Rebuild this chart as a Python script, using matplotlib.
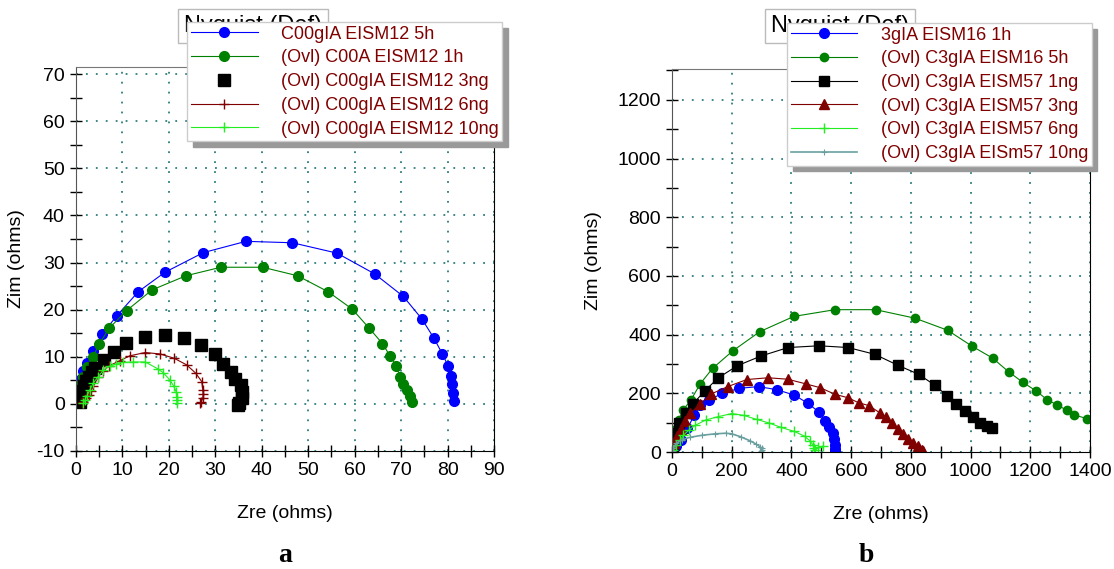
import matplotlib
matplotlib.use('Agg')
import matplotlib.pyplot as plt
from matplotlib.ticker import MultipleLocator

plt.rcParams['font.family'] = ['Liberation Sans', 'DejaVu Sans']
plt.rcParams['axes.unicode_minus'] = False

# ---- panel a (Zre, Zim in ohms) ----
a_5h_x = [0.3, 0.6, 1.0, 1.6, 2.3, 3.7, 5.7, 8.8, 13.4, 19.1, 27.4, 36.6, 46.6, 56.2, 64.3, 70.5,
          74.5, 77.1, 78.9, 80.1, 80.7, 81.0, 81.2, 81.5]
a_5h_y = [0.5, 3.0, 5.3, 7.0, 8.6, 11.3, 14.9, 18.7, 23.8, 27.9, 32.1, 34.5, 34.2, 32.0, 27.6, 22.8,
          18.0, 13.9, 10.6, 8.1, 5.9, 4.2, 2.3, 0.7]
a_1h_x = [0.2, 0.5, 1.0, 1.6, 2.3, 3.6, 5.0, 7.2, 10.9, 16.4, 23.7, 31.2, 40.2, 47.7, 54.3, 59.5,
          63.1, 66.0, 67.6, 69.0, 69.8, 70.5, 71.2, 71.9, 72.4]
a_1h_y = [0.3, 2.3, 4.3, 5.8, 7.8, 9.9, 12.7, 16.1, 19.8, 24.2, 27.2, 29.0, 29.0, 27.2, 23.8, 20.1,
          16.1, 12.8, 10.2, 8.1, 5.8, 4.2, 3.0, 1.6, 0.5]
a_3ng_x = [0.8, 1.0, 1.3, 1.7, 2.2, 2.7, 3.4, 4.1, 6.0, 8.1, 10.8, 14.9, 19.2, 23.3, 27.0, 29.9,
           31.7, 33.3, 34.3, 35.5, 35.8, 35.8, 35.2, 34.9]
a_3ng_y = [0.3, 1.6, 2.8, 3.9, 4.9, 5.8, 6.7, 7.6, 9.3, 11.1, 13.0, 14.3, 14.6, 13.9, 12.5, 10.6,
           8.5, 6.8, 5.2, 4.0, 2.5, 1.2, 0.2, -0.3]
a_6ng_x = [1.2, 1.6, 2.1, 2.7, 3.2, 3.7, 4.8, 5.9, 7.2, 9.5, 11.6, 14.9, 18.1, 21.1, 23.8, 25.8,
           27.1, 27.3, 27.4, 27.3, 27.0, 26.7]
a_6ng_y = [0.1, 0.5, 1.2, 1.9, 2.8, 3.7, 5.8, 7.0, 8.1, 9.2, 10.2, 10.9, 10.6, 9.7, 8.3, 6.5,
           4.7, 3.0, 2.0, 1.2, 0.5, 0.1]
a_10ng_x = [1.6, 1.9, 2.3, 3.0, 3.7, 4.8, 5.9, 7.3, 8.7, 10.2, 12.3, 14.9, 17.7, 18.8, 20.2, 21.1,
            21.6, 21.7, 21.7, 21.8]
a_10ng_y = [0.1, 0.8, 1.6, 3.0, 4.4, 5.8, 7.2, 8.0, 8.5, 8.8, 8.9, 8.9, 7.4, 6.6, 5.1, 3.7,
            2.5, 1.5, 0.8, 0.1]
a_labels = ['C00gIA EISM12 5h', '(Ovl) C00A EISM12 1h', '(Ovl) C00gIA EISM12 3ng',
            '(Ovl) C00gIA EISM12 6ng', '(Ovl) C00gIA EISM12 10ng']

# ---- panel b ----
b_1h_x = [3, 13, 30, 52, 75, 95, 123, 169, 225, 291, 352, 410, 455, 494, 512, 527, 538, 544, 546, 546, 545]
b_1h_y = [2, 19, 42, 81, 126, 160, 177, 200, 217, 223, 212, 194, 166, 135, 107, 86, 64, 44, 24, 10, 1]
b_5h_x = [3, 8, 15, 22, 38, 64, 95, 136, 203, 294, 408, 546, 682, 814, 923, 1006, 1074, 1128, 1176,
          1220, 1257, 1289, 1323, 1348, 1390]
b_5h_y = [12, 45, 80, 108, 144, 178, 233, 285, 344, 410, 462, 485, 485, 456, 415, 360, 320, 273, 237,
          208, 178, 161, 142, 126, 114]
b_1ng_x = [2, 5, 13, 25, 47, 70, 110, 154, 219, 298, 389, 493, 590, 679, 758, 826, 880, 921, 953,
           983, 1007, 1032, 1055, 1073]
b_1ng_y = [2, 30, 64, 98, 132, 164, 208, 252, 294, 327, 356, 362, 356, 333, 295, 265, 228, 192, 163,
           140, 118, 99, 89, 82]
b_3ng_x = [2, 8, 18, 30, 45, 62, 95, 132, 187, 251, 322, 388, 449, 497, 545, 589, 625, 660, 697,
           716, 736, 757, 773, 790, 807, 823, 836, 840]
b_3ng_y = [2, 30, 55, 80, 105, 132, 165, 198, 223, 247, 253, 248, 232, 219, 197, 185, 168, 158, 133,
           121, 99, 79, 62, 46, 32, 19, 8, 3]
b_6ng_x = [4, 15, 27, 38, 56, 78, 113, 153, 200, 240, 284, 325, 365, 410, 444, 462, 472, 476, 480, 490, 505]
b_6ng_y = [6, 23, 40, 57, 74, 91, 109, 120, 131, 125, 111, 99, 84, 70, 54, 38, 24, 12, 6, 16, 20]
b_10ng_x = [2, 5, 15, 35, 60, 100, 145, 180, 200, 230, 262, 282, 295, 300, 302, 298]
b_10ng_y = [3, 15, 30, 42, 50, 57, 62, 64, 62, 52, 38, 27, 18, 12, 7, 4]
b_labels = ['3gIA EISM16 1h', '(Ovl) C3gIA EISM16 5h', '(Ovl) C3gIA EISM57 1ng',
            '(Ovl) C3gIA EISM57 3ng', '(Ovl) C3gIA EISM57 6ng', '(Ovl) C3gIA EISm57 10ng']

BLUE, GREEN, DRED, LIME, TEAL = '#0000ff', '#008000', '#800000', '#22ee22', '#6a9fa0'
GRID = '#2e7d7d'


def style_axes(ax, major_x, major_y):
    ax.xaxis.set_major_locator(MultipleLocator(major_x))
    ax.xaxis.set_minor_locator(MultipleLocator(major_x / 2))
    ax.yaxis.set_major_locator(MultipleLocator(major_y))
    ax.yaxis.set_minor_locator(MultipleLocator(major_y / 2))
    ax.tick_params(which='both', direction='inout', length=9, width=1, labelsize=14,
                   top=False, right=False)
    ax.grid(True, which='major', color=GRID, linestyle=(0, (1, 4.5)), linewidth=1.3)
    ax.spines['top'].set_color('#777777')
    ax.spines['left'].set_color('#555555')
    ax.spines['right'].set_color('black')
    ax.spines['bottom'].set_color('black')
    ax.set_xlabel('Zre (ohms)', fontsize=14)
    ax.set_ylabel('Zim (ohms)', fontsize=14)


def title_box(fig, x, y):
    fig.text(x, y, 'Nyquist (Def)', fontsize=17, ha='left', va='center', zorder=2,
             bbox=dict(boxstyle='square,pad=0.25', fc='white', ec='#bbbbbb', lw=1))


def add_legend(fig, handles, labels, anchor):
    leg = fig.legend(handles, labels, loc='upper left', bbox_to_anchor=anchor,
                     borderaxespad=0, fontsize=13, handlelength=3.7, handletextpad=1.3,
                     labelspacing=0.37, borderpad=0.2, fancybox=False, framealpha=1,
                     edgecolor='#cccccc',
                     shadow={'ox': 4, 'oy': -4, 'color': '#999999', 'alpha': 1})
    leg.set_zorder(10)
    for t in leg.get_texts():
        t.set_color(DRED)
    return leg


fig = plt.figure(figsize=(11.14, 5.69), dpi=100)
ax1 = fig.add_axes([0.0682, 0.2074, 0.3752, 0.6748])
ax2 = fig.add_axes([0.6032, 0.2056, 0.3752, 0.6731])

# panel a
h1 = ax1.plot(a_5h_x, a_5h_y, color=BLUE, lw=0.8, marker='o', ms=7)[0]
h2 = ax1.plot(a_1h_x, a_1h_y, color=GREEN, lw=0.8, marker='o', ms=7)[0]
h3 = ax1.plot(a_3ng_x, a_3ng_y, color='black', lw=0, marker='s', ms=8)[0]
h4 = ax1.plot(a_6ng_x, a_6ng_y, color=DRED, lw=0.8, marker='+', ms=7, mew=1)[0]
h5 = ax1.plot(a_10ng_x, a_10ng_y, color=LIME, lw=0.8, marker='+', ms=7, mew=1)[0]
ax1.set_xlim(0, 90)
ax1.set_ylim(-10, 71.5)
style_axes(ax1, 10, 10)
ax1.xaxis.set_label_coords(0.5, -0.14)
ax1.yaxis.set_label_coords(-0.122, 0.5)

# panel b
g1 = ax2.plot(b_1h_x, b_1h_y, color=BLUE, lw=0.8, marker='o', ms=7)[0]
g2 = ax2.plot(b_5h_x, b_5h_y, color=GREEN, lw=0.8, marker='o', ms=6)[0]
g3 = ax2.plot(b_1ng_x, b_1ng_y, color='black', lw=0.8, marker='s', ms=6.5)[0]
g4 = ax2.plot(b_3ng_x, b_3ng_y, color=DRED, lw=0.8, marker='^', ms=7.5)[0]
g5 = ax2.plot(b_6ng_x, b_6ng_y, color=LIME, lw=0.8, marker='+', ms=7, mew=1)[0]
g6 = ax2.plot(b_10ng_x, b_10ng_y, color=TEAL, lw=1.2, marker='+', ms=5, mew=0.8)[0]
ax2.set_xlim(0, 1400)
ax2.set_ylim(0, 1305)
style_axes(ax2, 200, 200)
ax2.xaxis.set_label_coords(0.5, -0.14)
ax2.yaxis.set_label_coords(-0.167, 0.5)

title_box(fig, 0.165, 0.955)
title_box(fig, 0.692, 0.955)
add_legend(fig, [h1, h2, h3, h4, h5], a_labels, (0.168, 0.961))
add_legend(fig, [g1, g2, g3, g4, g5, g6], b_labels, (0.7065, 0.9596))

fig.text(0.256, 0.024, 'a', fontsize=20, fontweight='bold', family='Liberation Serif',
         ha='center', va='center')
fig.text(0.778, 0.024, 'b', fontsize=20, fontweight='bold', family='Liberation Serif',
         ha='center', va='center')

fig.savefig('out.png', dpi=100)
